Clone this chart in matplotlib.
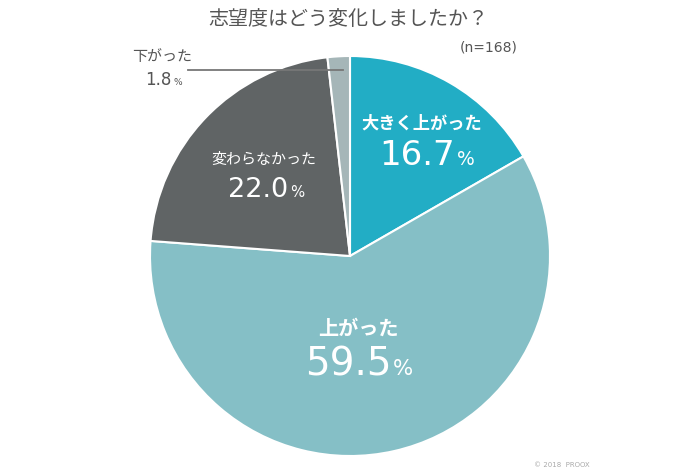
import matplotlib
matplotlib.use("Agg")
import matplotlib.pyplot as plt

plt.rcParams['font.family'] = ['Noto Sans CJK JP', 'DejaVu Sans']
NUMFONT = ['DejaVu Sans']

title = "志望度はどう変化しましたか？"
n_label = "(n=168)"
categories = ["大きく上がった", "上がった", "変わらなかった", "下がった"]
values = [16.7, 59.5, 22.0, 1.8]
colors = ["#22adc5", "#85bfc6", "#606465", "#a5b6b8"]

fig = plt.figure(figsize=(7.0, 4.74), dpi=100)
ax = fig.add_axes([0, 0, 1, 1])

H = 474
def Y(y):
    return H - y

ax.pie(values, colors=colors, startangle=90, counterclock=False,
       center=(350, Y(256)), radius=200, frame=True,
       wedgeprops=dict(edgecolor='white', linewidth=1.5))
ax.set_xlim(0, 700)
ax.set_ylim(0, 474)
ax.set_aspect('equal')
ax.axis('off')

ax.text(348, Y(19), title, ha='center', va='center', fontsize=14.4, color='#555555')
ax.text(489, Y(47), n_label, ha='center', va='center', fontsize=10,
        color='#555555', family=NUMFONT)
ax.text(562, Y(465), "© 2018  PROOX", ha='center', va='center', fontsize=5,
        color='#aaaaaa', family=NUMFONT)

r = fig.canvas.get_renderer()

def numpct(xc, yb, val, fs_num, color, pct_frac=0.55, gap=2):
    num = f"{val:.1f}"
    t1 = ax.text(0, Y(yb), num, ha='left', va='baseline', fontsize=fs_num, color=color,
                 family=NUMFONT)
    t2 = ax.text(0, Y(yb), "%", ha='left', va='baseline', fontsize=fs_num * pct_frac,
                 color=color, family=NUMFONT)
    w1 = t1.get_window_extent(r).width
    w2 = t2.get_window_extent(r).width
    total = w1 + w2 + gap
    x0 = xc - total / 2
    t1.set_x(x0)
    t2.set_x(x0 + w1 + gap)

# 大きく上がった
ax.text(422, Y(124), categories[0], ha='center', va='center', fontsize=12.4, color='white', weight='bold')
numpct(427, 165, values[0], 24.5, 'white')
# 上がった
ax.text(358, Y(328), categories[1], ha='center', va='center', fontsize=14.5, color='white', weight='bold')
numpct(359, 375, values[1], 28, 'white')
# 変わらなかった
ax.text(264, Y(160), categories[2], ha='center', va='center', fontsize=10.8, color='white')
numpct(266, 197, values[2], 19.5, 'white')
# 下がった
ax.text(162, Y(57), categories[3], ha='center', va='center', fontsize=10.8, color='#555555')
numpct(164, 85, values[3], 12, '#555555')
ax.plot([188, 343], [Y(70), Y(70)], color='#777777', linewidth=1.3)

fig.savefig("out.png", dpi=100)
